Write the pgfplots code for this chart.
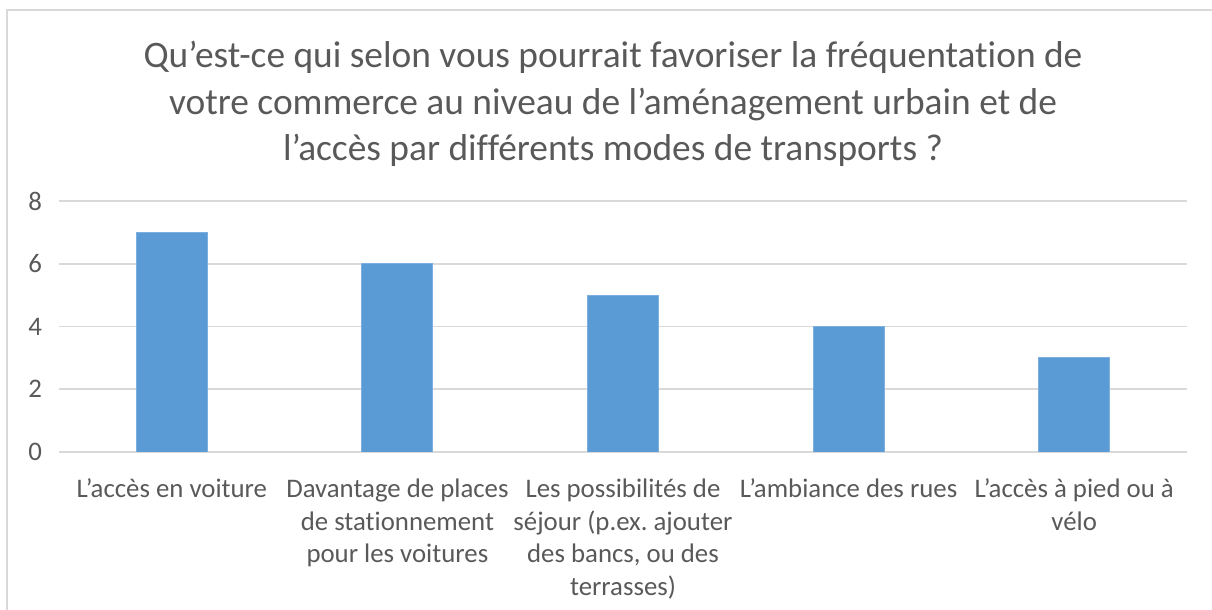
\documentclass[border=0pt]{standalone}
\usepackage{pgfplots}
\pgfplotsset{compat=1.18}
\usepackage{fontspec}
\setmainfont{Carlito}[Ligatures=NoCommon]
\frenchspacing
\definecolor{barblue}{HTML}{5B9BD5}
\definecolor{gridgray}{HTML}{D9D9D9}
\definecolor{txtgray}{HTML}{595959}
\begin{document}
\begin{tikzpicture}
\useasboundingbox (0,0) rectangle (606pt,305pt);
\draw[gridgray, line width=1pt] (3.5pt,-20pt) rectangle (700pt,300pt);
\node[align=center, text=txtgray, font=\fontsize{18.7}{23.2}\selectfont] at (306.5pt,253pt)
 {Qu’est-ce qui selon vous pourrait favoriser la fréquentation de\\votre commerce au niveau de l’aménagement urbain et de\\l’accès par différents modes de transports ?};
\begin{axis}[
  at={(29.5pt,79pt)}, anchor=south west,
  scale only axis, width=564pt, height=125.5pt,
  xmin=-0.5, xmax=4.5, ymin=0, ymax=8,
  ytick={0,2,4,6,8},
  xtick={0,1,2,3,4},
  xticklabels={{L’accès en voiture}, {Davantage de places\\de stationnement\\pour les voitures}, {Les possibilités de\\séjour (p.ex.\ ajouter\\des bancs, ou des\\terrasses)}, {L’ambiance des rues}, {L’accès à pied ou à\\vélo}},
  axis line style={draw=none},
  axis x line*=bottom,
  major tick length=0pt,
  ymajorgrids, grid style={gridgray, line width=0.9pt},
  /pgf/number format/assume math mode=true,
  yticklabel style={text=txtgray, font=\fontsize{13.4}{16}\selectfont, xshift=-5pt},
  xticklabel style={text=txtgray, font=\fontsize{13.4}{16.3}\selectfont, align=center, anchor=north, yshift=-10pt},
  ybar, bar width=35.5pt,
]
\addplot[fill=barblue, draw=barblue!80!white, line width=0.4pt] coordinates {(0,7) (1,6) (2,5) (3,4) (4,3)};
\end{axis}
\end{tikzpicture}
\end{document}
